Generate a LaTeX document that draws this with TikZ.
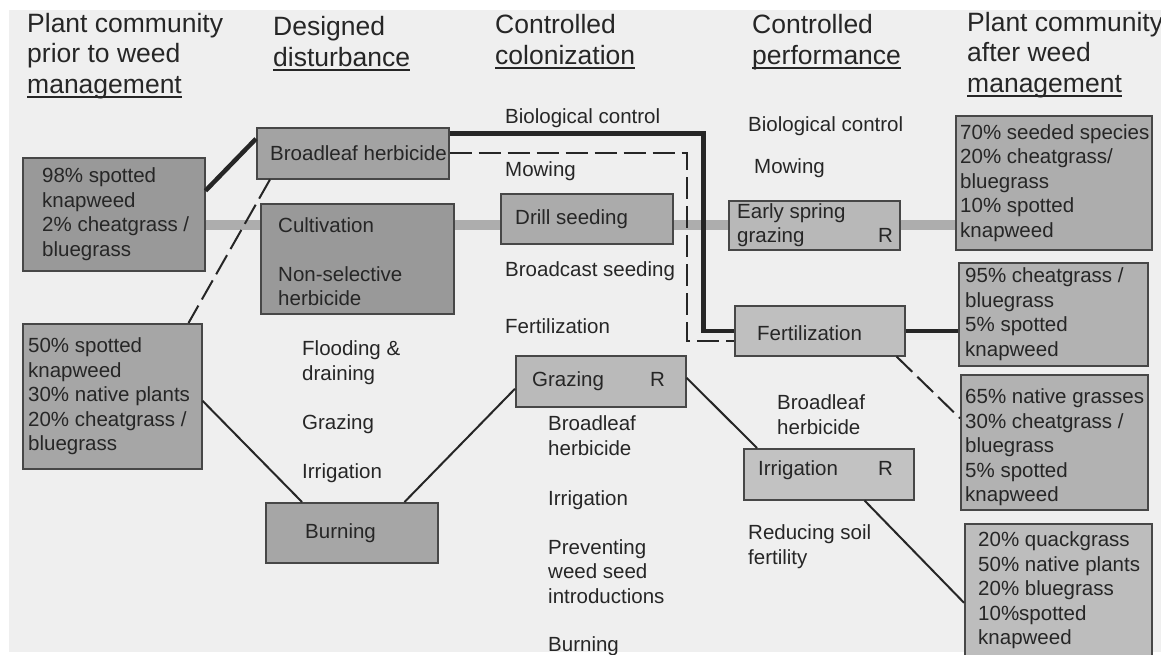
\documentclass[tikz,border=0pt]{standalone}
\usepackage{fontspec}
\setmainfont{Liberation Sans}
\newsavebox{\ulbox}
\newcommand{\headul}[1]{\sbox{\ulbox}{#1}\rlap{\rule[-5pt]{\wd\ulbox}{1.6pt}}\usebox{\ulbox}}
\newcommand{\bodysize}{\fontsize{20.5}{24.5}\selectfont}
\newcommand{\headsize}{\fontsize{26.5}{30.5}\selectfont}
\definecolor{paper}{HTML}{EFEFEF}
\definecolor{ink}{HTML}{262626}
\begin{document}
\begin{tikzpicture}[
    x=1pt, y=-1pt,
    every node/.style={align=left, text=ink},
    heading/.style={anchor=base west, inner sep=0pt, font=\headsize},
    label text/.style={anchor=base west, inner sep=0pt, font=\bodysize},
    box text/.style={anchor=west, inner sep=0pt, font=\bodysize},
    shaded box/.style={draw=black!72, line width=1.5pt, anchor=north west, inner sep=0pt},
    thick line/.style={draw=ink, line width=4.5pt},
    thin line/.style={draw=ink, line width=2pt},
    dashed line/.style={draw=ink, line width=2pt, dash pattern=on 22pt off 7pt},
    gray band/.style={draw=black!32, line width=10pt},
    ]
\useasboundingbox (0,0) rectangle (1161,654);
\fill[white] (0,0) rectangle (1161,654);
\fill[paper] (9,10) rectangle (1161,652);

\node[heading] (headPrior) at (27,93) {Plant community\\prior to weed\\\headul{management}};
\node[heading] (headDisturb) at (273,66) {Designed\\\headul{disturbance}};
\node[heading] (headColon) at (495,64) {Controlled\\\headul{colonization}};
\node[heading] (headPerf) at (752,64) {Controlled\\\headul{performance}};
\node[heading] (headAfter) at (967,92) {Plant community\\after weed\\\headul{management}};

\node[shaded box, fill=black!40, minimum width=182pt, minimum height=113pt] (prior1) at (22,157) {};
\node[shaded box, fill=black!35, minimum width=179pt, minimum height=145pt] (prior2) at (22,323) {};
\node[shaded box, fill=black!36, minimum width=192pt, minimum height=51pt] (broadleaf) at (256,127) {};
\node[shaded box, fill=black!40, minimum width=193pt, minimum height=110pt] (cultivation) at (260,203) {};
\node[shaded box, fill=black!35, minimum width=172pt, minimum height=60pt] (burning) at (265,502) {};
\node[shaded box, fill=black!33, minimum width=172pt, minimum height=50pt] (drill) at (500,193) {};
\node[shaded box, fill=black!28, minimum width=171pt, minimum height=49pt] (earlyspring) at (728,200) {};
\node[shaded box, fill=black!25, minimum width=170pt, minimum height=50pt] (fertilization) at (734,305) {};
\node[shaded box, fill=black!27, minimum width=170pt, minimum height=51pt] (grazing) at (515,355) {};
\node[shaded box, fill=black!24, minimum width=170pt, minimum height=51pt] (irrigation) at (743,448) {};
\node[shaded box, fill=black!32, minimum width=196pt, minimum height=134pt] (after1) at (955,115) {};
\node[shaded box, fill=black!30, minimum width=189pt, minimum height=103pt] (after2) at (958,262) {};
\node[shaded box, fill=black!30, minimum width=187pt, minimum height=135pt] (after3) at (960,374) {};
\node[shaded box, fill=black!26, minimum width=187pt, minimum height=133pt] (after4) at (964,523) {};

\node[box text] (prior1Text) at ([xshift=20pt]prior1.west) {98\% spotted\\knapweed\\2\% cheatgrass /\\bluegrass};
\node[box text] (prior2Text) at ([xshift=6pt]prior2.west) {50\% spotted\\knapweed\\30\% native plants\\20\% cheatgrass /\\bluegrass};
\node[box text] (broadleafText) at ([xshift=14pt]broadleaf.west) {Broadleaf herbicide};
\node[box text] (cultivationText) at ([xshift=18pt,yshift=-3pt]cultivation.west) {Cultivation\\[24.5pt]Non-selective\\herbicide};
\node[box text] (burningText) at ([xshift=40pt]burning.west) {Burning};
\node[box text] (drillText) at ([xshift=15pt]drill.west) {Drill seeding};
\node[box text] (earlyspringText) at ([xshift=9pt]earlyspring.west) {Early spring\\\makebox[141pt][l]{grazing}R};
\node[box text] (fertilizationText) at ([xshift=23pt,yshift=-2pt]fertilization.west) {Fertilization};
\node[box text] (grazingText) at ([xshift=17pt]grazing.west) {\makebox[118pt][l]{Grazing}R};
\node[box text] (irrigationText) at ([xshift=15pt,yshift=4pt]irrigation.west) {\makebox[120pt][l]{Irrigation}R};
\node[box text] (after1Text) at ([xshift=5pt]after1.west) {70\% seeded species\\20\% cheatgrass/\\bluegrass\\10\% spotted\\knapweed};
\node[box text] (after2Text) at ([xshift=7pt]after2.west) {95\% cheatgrass /\\bluegrass\\5\% spotted\\knapweed};
\node[box text] (after3Text) at ([xshift=5pt,yshift=-5pt]after3.west) {65\% native grasses\\30\% cheatgrass /\\bluegrass\\5\% spotted\\knapweed};
\node[box text] (after4Text) at ([xshift=14pt]after4.west) {20\% quackgrass\\50\% native plants\\20\% bluegrass\\10\%spotted\\knapweed};

\node[label text] (flooding) at (302,380) {Flooding \&\\draining};
\node[label text] (grazingA) at (302,429) {Grazing};
\node[label text] (irrigationA) at (302,478) {Irrigation};
\node[label text] (biologicalB) at (505,123) {Biological control};
\node[label text] (mowingB) at (505,176) {Mowing};
\node[label text] (broadcastB) at (505,276) {Broadcast seeding};
\node[label text] (fertilizationB) at (505,333) {Fertilization};
\node[label text] (broadleafB) at (548,455) {Broadleaf\\herbicide};
\node[label text] (irrigationB) at (548,505) {Irrigation};
\node[label text] (preventingB) at (548,603) {Preventing\\weed seed\\introductions};
\node[label text] (burningB) at (548,651) {Burning};
\node[label text] (biologicalC) at (748,131) {Biological control};
\node[label text] (mowingC) at (754,173) {Mowing};
\node[label text] (broadleafC) at (777,434) {Broadleaf\\herbicide};
\node[label text] (reducingC) at (748,564) {Reducing soil\\fertility};

\coordinate (bandL) at ([yshift=-10.5pt]prior1.east);
\draw[gray band] (bandL) -- (bandL -| cultivation.west);
\draw[gray band] (bandL -| cultivation.east) -- (bandL -| drill.west);
\draw[gray band] (bandL -| drill.east) -- (bandL -| earlyspring.west);
\draw[gray band] (bandL -| earlyspring.east) -- (bandL -| after1.west);

\draw[thick line] ([yshift=23.5pt]prior1.east) -- ([yshift=14.5pt]broadleaf.west);
\draw[thick line] ([yshift=20pt]broadleaf.east) -- ++(254,0) |- (fertilization.west);
\draw[thick line] (fertilization.east) -- (fertilization.east -| after2.west);

\draw[dashed line] (broadleaf.east) -- ++(237,0) |- ([yshift=-10pt]fertilization.west);
\draw[dashed line] ([xshift=-9pt]fertilization.south east) -- ([yshift=24pt]after3.west);
\draw[dashed line] ([xshift=14pt]broadleaf.south west) -- ([xshift=-14pt]prior2.north east);

\draw[thin line] ([yshift=-4.5pt]prior2.east) -- ([xshift=37pt]burning.north west);
\draw[thin line] ([xshift=-34pt]burning.north east) -- ([yshift=-7.5pt]grazing.west);
\draw[thin line] ([yshift=3.5pt]grazing.east) -- ([xshift=14pt]irrigation.north west);
\draw[thin line] ([xshift=-50pt]irrigation.south east) -- ([yshift=-12.5pt]after4.west);
\end{tikzpicture}
\end{document}
